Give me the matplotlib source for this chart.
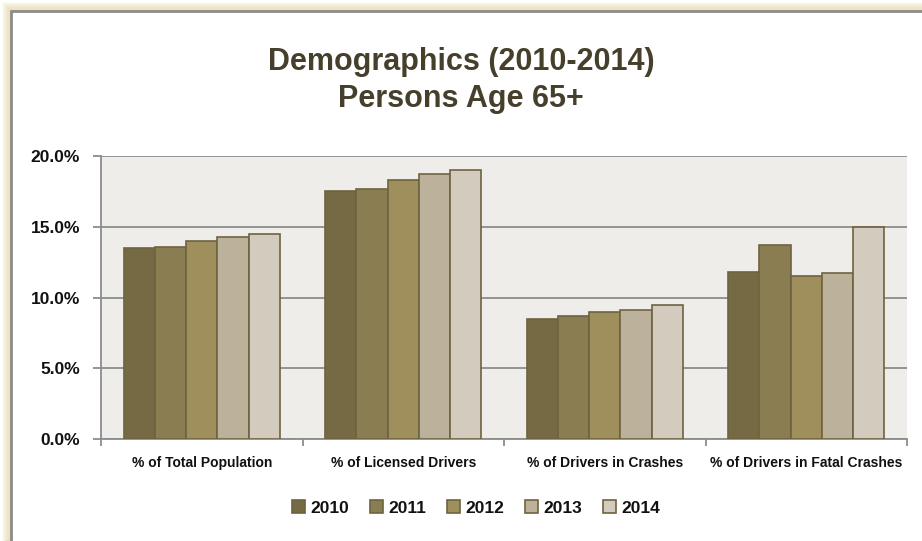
import numpy as np
import matplotlib
matplotlib.use("Agg")
import matplotlib.pyplot as plt
from matplotlib.patches import Rectangle
from matplotlib.ticker import FuncFormatter, MultipleLocator

plt.rcParams['font.family'] = ['Liberation Sans Narrow', 'Liberation Sans', 'DejaVu Sans']

categories = ["% of Total Population", "% of Licensed Drivers",
              "% of Drivers in Crashes", "% of Drivers in Fatal Crashes"]
years = ["2010", "2011", "2012", "2013", "2014"]
values = {
    "2010": [13.5, 17.5, 8.5, 11.8],
    "2011": [13.6, 17.7, 8.7, 13.7],
    "2012": [14.0, 18.3, 9.0, 11.5],
    "2013": [14.3, 18.7, 9.1, 11.7],
    "2014": [14.5, 19.0, 9.5, 15.0],
}
colors = ["#756a43", "#8b7d52", "#9e8f5c", "#bcb29b", "#d3ccbe"]
edge = "#6e6340"
text_col = "#463f2b"

W, H = 922, 541
fig = plt.figure(figsize=(W / 100, H / 100), dpi=100)

# beige glow + grey border of the chart frame
for i in range(8):
    a = 0.12 + 0.08 * i
    fig.patches.append(Rectangle(((3 + i) / W, 0), 1, (H - 3 - i) / H, transform=fig.transFigure,
                                 facecolor="none", edgecolor=(0.91, 0.85, 0.68, a), lw=1.2,
                                 zorder=-2))
fig.patches.append(Rectangle((11 / W, -0.1), 1.1, (H - 11) / H + 0.1, transform=fig.transFigure,
                             facecolor="white", edgecolor="#8a8a8a", lw=2.0, zorder=-1))

ax = fig.add_axes([101 / W, 1 - 439 / H, (907 - 101) / W, (439 - 156) / H])
ax.set_zorder(2)
ax.set_facecolor("#eeedea")

x = np.arange(len(categories))
bw = 0.155
for i, y in enumerate(years):
    ax.bar(x + (i - 2) * bw, values[y], width=bw, color=colors[i], edgecolor=edge,
           linewidth=1.2, label=y, zorder=3)

ax.set_xlim(-0.5, len(categories) - 0.5)
ax.set_ylim(0, 20)
ax.yaxis.set_major_locator(MultipleLocator(5))
ax.yaxis.set_major_formatter(FuncFormatter(lambda v, p: f"{v:.1f}%"))
ax.grid(axis="y", color="#8c8c8c", lw=1.3, zorder=1)
ax.set_axisbelow(True)

ax.set_xticks(x)
ax.set_xticklabels(categories, fontsize=10, fontweight="bold", color="#111111")
ax.set_xticks(np.arange(len(categories) + 1) - 0.5, minor=True)
ax.tick_params(axis="x", which="major", length=0, pad=12)
ax.tick_params(axis="x", which="minor", length=5, color="#8c8c8c", width=1.3)
ax.tick_params(axis="y", length=6, color="#8c8c8c", width=1.3, labelsize=12.5, pad=9)
for lab in ax.get_yticklabels():
    lab.set_fontweight("bold")
    lab.set_color("#111111")

for s in ["top", "right"]:
    ax.spines[s].set_visible(False)
for s in ["left", "bottom"]:
    ax.spines[s].set_color("#8c8c8c")
    ax.spines[s].set_linewidth(1.3)

fig.text(461 / W, 1 - 62 / H, "Demographics (2010-2014)", ha="center", va="center",
         fontsize=22, fontweight="bold", color=text_col)
fig.text(461 / W, 1 - 99 / H, "Persons Age 65+", ha="center", va="center",
         fontsize=22, fontweight="bold", color=text_col)

leg = fig.legend(loc="center", bbox_to_anchor=(476 / W, 1 - 508 / H), ncol=5, frameon=False,
                 prop={"size": 12.5, "weight": "bold"}, handlelength=0.75, handleheight=0.75,
                 handletextpad=0.3, columnspacing=1.2)
for t in leg.get_texts():
    t.set_color("#111111")

fig.savefig("out.png", dpi=100)
